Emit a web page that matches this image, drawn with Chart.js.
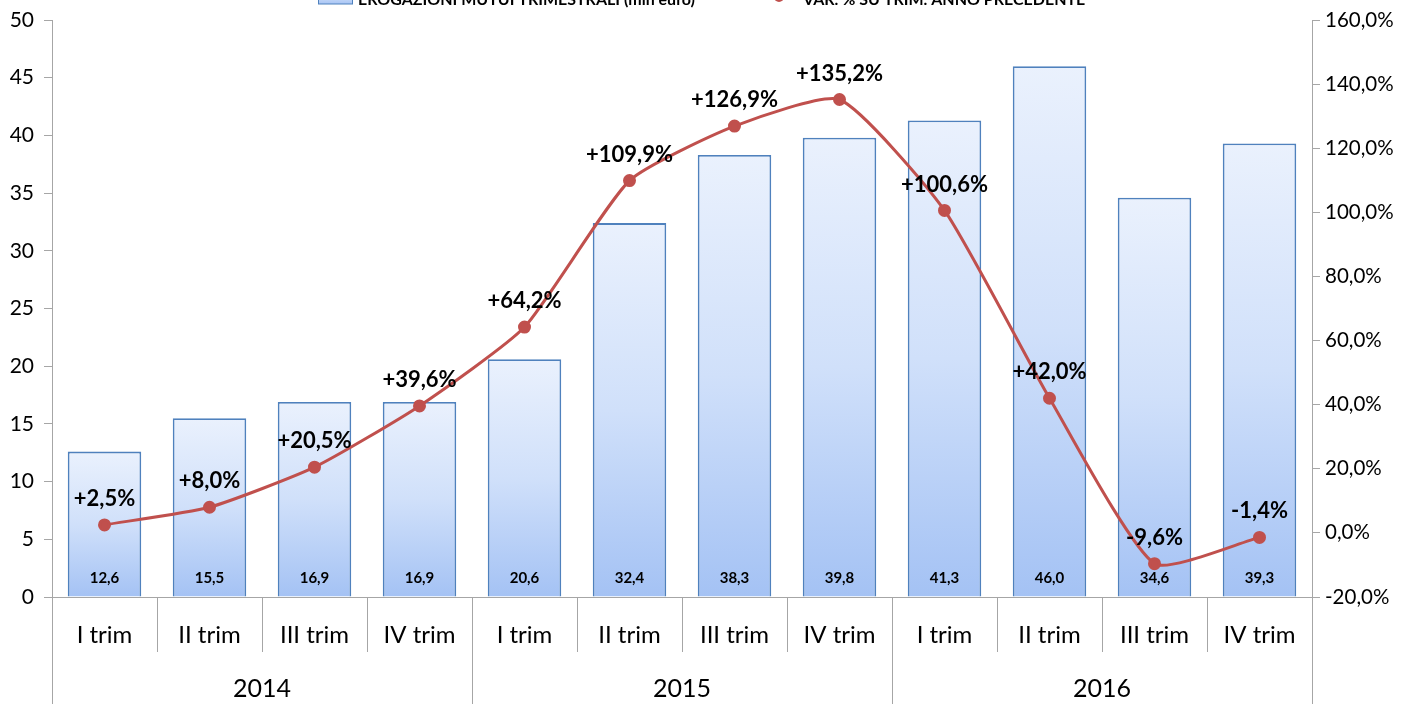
<!DOCTYPE html>
<html><head><meta charset="utf-8">
<script src="https://cdn.jsdelivr.net/npm/chart.js@4"></script>
<style>html,body{margin:0;padding:0;background:#fff;}#wrap{width:1409px;height:704px;}</style>
</head><body><div id="wrap"><canvas id="c" width="1409" height="704"></canvas></div>
<script>
const categories = ["I trim","II trim","III trim","IV trim","I trim","II trim","III trim","IV trim","I trim","II trim","III trim","IV trim"];
const years = ["2014","2015","2016"];
const erogazioni = [12.6,15.5,16.9,16.9,20.6,32.4,38.3,39.8,41.3,46.0,34.6,39.3];
const variazione = [2.5,8.0,20.5,39.6,64.2,109.9,126.9,135.2,100.6,42.0,-9.6,-1.4];
const seriesNames = ["EROGAZIONI MUTUI TRIMESTRALI (mln euro)","VAR. % SU TRIM. ANNO PRECEDENTE"];

const FONT = "Lato, 'Open Sans', sans-serif";
const fmt = (v,d)=>v.toFixed(d).replace('.',',');

const barGradient = (ctx)=>{
  const chart = ctx.chart;
  const y = chart.scales && chart.scales.y;
  if(!y || ctx.dataIndex===undefined || !chart.chartArea) return '#c6d9f8';
  const top = y.getPixelForValue(erogazioni[ctx.dataIndex]);
  const bot = y.getPixelForValue(0);
  const g = chart.ctx.createLinearGradient(0, top, 0, bot);
  g.addColorStop(0,'#eaf1fd');
  g.addColorStop(0.5,'#d0e0fa');
  g.addColorStop(1,'#a4c2f4');
  return g;
};

const decor = {
  id:'decor',
  afterDatasetsDraw(chart){
    const c = chart.ctx, x = chart.scales.x, y2 = chart.scales.y2;
    const area = chart.chartArea;
    c.save();
    c.font = "bold 15px "+FONT; c.fillStyle='#000'; c.textAlign='center'; c.textBaseline='middle';
    erogazioni.forEach((v,i)=>{ c.fillText(fmt(v,1), x.getPixelForValue(i), area.bottom-19); });
    c.font = "bold 22px "+FONT;
    variazione.forEach((v,i)=>{
      const px = x.getPixelForValue(i), py = y2.getPixelForValue(v);
      c.fillText((v>0?'+':'')+fmt(v,1)+'%', px, py-26);
    });
    c.restore();
  },
  afterDraw(chart){
    const c = chart.ctx, area = chart.chartArea;
    const n = categories.length, step = (area.right-area.left)/n;
    c.save();
    c.strokeStyle='#a6a6a6'; c.lineWidth=1;
    for(let k=0;k<=n;k++){
      const px = Math.round(area.left+k*step)+0.5;
      c.beginPath(); c.moveTo(px, area.bottom); c.lineTo(px, k%4===0 ? 704 : area.bottom+55); c.stroke();
    }
    c.font = "25px "+FONT; c.fillStyle='#000'; c.textAlign='center'; c.textBaseline='middle';
    years.forEach((yr,j)=>{ c.fillText(yr, area.left+(j*4+2)*step, 689); });
    c.font = "bold 16px "+FONT; c.textAlign='left'; c.textBaseline='alphabetic';
    const gl = c.createLinearGradient(0,-10,0,5); gl.addColorStop(0,'#eaf1fd'); gl.addColorStop(1,'#a4c2f4');
    c.fillStyle = gl; c.fillRect(318,-10,34,14);
    c.strokeStyle='#4f81bd'; c.lineWidth=1; c.strokeRect(318.5,-10,34,14);
    c.fillStyle='#000'; c.fillText(seriesNames[0], 358, 5);
    c.strokeStyle='#c0504d'; c.lineWidth=3; c.beginPath(); c.moveTo(760,-3); c.lineTo(798,-3); c.stroke();
    c.fillStyle='#c0504d'; c.beginPath(); c.arc(779,-3,5,0,Math.PI*2); c.fill();
    c.fillStyle='#000'; c.fillText(seriesNames[1], 803, 5);
    c.restore();
  }
};

new Chart(document.getElementById('c'), {
  data:{
    labels: categories,
    datasets:[
      {type:'line', label:seriesNames[1], data:variazione, yAxisID:'y2', order:0,
       borderColor:'#c0504d', borderWidth:3, tension:0.18, pointRadius:5, pointBackgroundColor:'#c0504d', pointBorderColor:'#c0504d'},
      {type:'bar', label:seriesNames[0], data:erogazioni, yAxisID:'y', order:1,
       backgroundColor:barGradient, borderColor:'#4f81bd', borderWidth:1.8, categoryPercentage:1, barPercentage:0.7}
    ]
  },
  options:{
    responsive:false, animation:false,
    layout:{padding:{top:20,left:0,right:0,bottom:0}},
    plugins:{legend:{display:false}, tooltip:{enabled:false}},
    scales:{
      x:{
        grid:{display:false, drawTicks:false},
        border:{color:'#a6a6a6'},
        ticks:{font:{family:FONT,size:24}, color:'#000', padding:24, maxRotation:0, autoSkip:false},
        afterFit(s){ s.height = 107; s.paddingLeft=0; s.paddingRight=0; }
      },
      y:{
        position:'left', min:0, max:50,
        grid:{display:true, drawOnChartArea:false, drawTicks:true, tickLength:8, color:'#a6a6a6'},
        border:{color:'#a6a6a6'},
        ticks:{stepSize:5, font:{family:FONT,size:21}, color:'#000', padding:10},
        afterFit(s){ s.width = 52; s.paddingTop=0; s.paddingBottom=0; }
      },
      y2:{
        position:'right', min:-20, max:160,
        grid:{display:true, drawOnChartArea:false, drawTicks:true, tickLength:8, color:'#a6a6a6'},
        border:{color:'#a6a6a6'},
        ticks:{stepSize:20, font:{family:FONT,size:20.5}, color:'#000', padding:5, callback:v=>fmt(v,1)+'%'},
        afterFit(s){ s.width = 97; s.paddingTop=0; s.paddingBottom=0; }
      }
    }
  },
  plugins:[decor]
});
</script></body></html>
